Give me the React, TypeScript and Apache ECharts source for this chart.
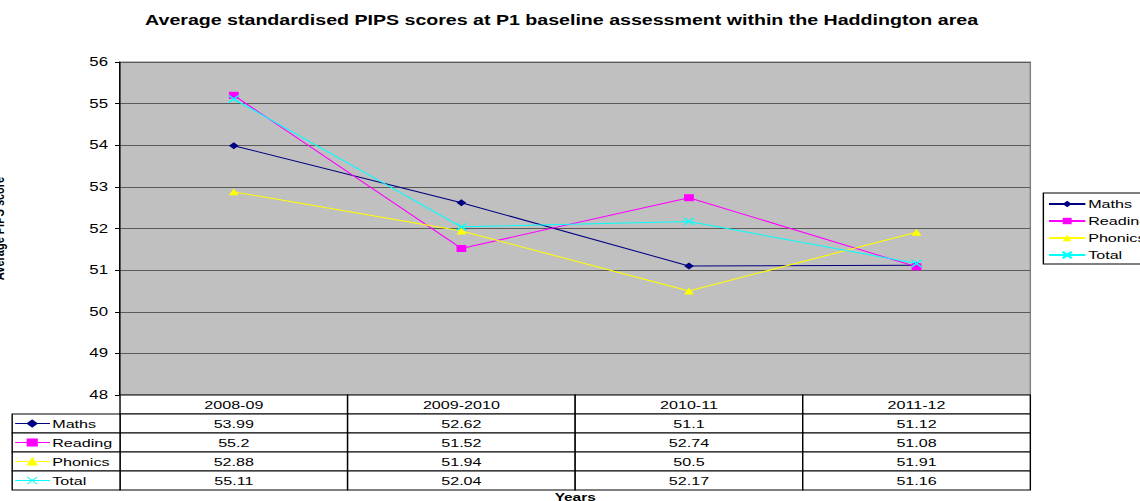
import React, { useEffect, useRef } from "react";
import * as echarts from "echarts";

const TITLE = "Average standardised PIPS scores at P1 baseline assessment within the Haddington area";
const Y_NAME = "Average PIPS score";
const X_NAME = "Years";
const categories = ["2008-09", "2009-2010", "2010-11", "2011-12"];
const seriesNames = ["Maths", "Reading", "Phonics", "Total"];
const maths = [53.99, 52.62, 51.1, 51.12];
const reading = [55.2, 51.52, 52.74, 51.08];
const phonics = [52.88, 51.94, 50.5, 51.91];
const total = [55.11, 52.04, 52.17, 51.16];
const yTicks = { min: 48, max: 56, interval: 1 };

const allValues = [maths, reading, phonics, total];
const colors = ["#000080", "#FF00FF", "#FFFF00", "#00FFFF"];
const symbols = ["diamond", "rect", "triangle", "path://M0,0L10,10M10,0L0,10"];

const FONT = '"Liberation Sans", Arial, sans-serif';
const W = 814;
const H = 501;
const SX = 1140 / W;
const KEY_W = 77;

export default function App() {
  const ref = useRef<HTMLDivElement>(null);
  useEffect(() => {
    if (!ref.current) return;
    const chart = echarts.init(ref.current, null, { renderer: "svg" });

    const cellData: number[][] = [];
    const cellTexts: string[] = [];
    categories.forEach((c, ci) => {
      cellData.push([ci, 0]);
      cellTexts.push(c);
    });
    allValues.forEach((vals, si) => {
      vals.forEach((v, ci) => {
        cellData.push([ci, si + 1]);
        cellTexts.push(String(v));
      });
    });
    const keyData = seriesNames.map((_, si) => [0, si + 1]);

    const markerShape = (si: number, mx: number, my: number) => {
      const r = 3.5;
      const style = { fill: colors[si], stroke: colors[si], lineWidth: 1 };
      if (si === 0)
        return { type: "polygon", shape: { points: [[mx, my - r], [mx + r, my], [mx, my + r], [mx - r, my]] }, style };
      if (si === 1) return { type: "rect", shape: { x: mx - r, y: my - r, width: 2 * r, height: 2 * r }, style };
      if (si === 2)
        return { type: "polygon", shape: { points: [[mx, my - r], [mx + r, my + r], [mx - r, my + r]] }, style };
      return {
        type: "group",
        children: [
          { type: "line", shape: { x1: mx - r, y1: my - r, x2: mx + r, y2: my + r }, style: { stroke: colors[si], lineWidth: 1 } },
          { type: "line", shape: { x1: mx + r, y1: my - r, x2: mx - r, y2: my + r }, style: { stroke: colors[si], lineWidth: 1 } },
        ],
      };
    };

    const option: any = {
      animation: false,
      backgroundColor: "#fff",
      textStyle: { fontFamily: FONT },
      title: {
        text: TITLE,
        left: 103.6,
        top: 13,
        padding: 0,
        textStyle: { fontFamily: FONT, fontSize: 14, fontWeight: "bold", color: "#000" },
      },
      legend: {
        orient: "vertical",
        left: 745,
        top: 193,
        padding: [5, 4, 3, 3],
        itemGap: 5,
        itemWidth: 26,
        itemHeight: 8,
        borderColor: "#000",
        borderWidth: 1,
        backgroundColor: "#fff",
        textStyle: { fontFamily: FONT, fontSize: 11.5, color: "#000", padding: [0, 0, 0, -3] },
        data: seriesNames,
      },
      grid: [
        { left: 85.7, top: 62, width: 650, height: 333, show: true, backgroundColor: "#C0C0C0", borderColor: "#808080", borderWidth: 1, outerBoundsMode: "none", containLabel: false },
        { left: 85.7, top: 395, width: 650, height: 95, outerBoundsMode: "none", containLabel: false },
      ],
      xAxis: [
        {
          type: "category",
          gridIndex: 0,
          data: categories,
          boundaryGap: true,
          axisLine: { lineStyle: { color: "#000", width: 1 } },
          axisTick: { show: false },
          axisLabel: { show: false },
          splitLine: { show: false },
        },
        {
          type: "category",
          gridIndex: 1,
          data: categories,
          boundaryGap: true,
          axisLine: { show: false },
          axisTick: { show: false },
          axisLabel: { show: false },
          splitLine: { show: false },
          name: X_NAME,
          nameLocation: "middle",
          nameGap: 2,
          nameTextStyle: { fontFamily: FONT, fontSize: 11, fontWeight: "bold", color: "#000", verticalAlign: "top" },
        },
      ],
      yAxis: [
        {
          type: "value",
          gridIndex: 0,
          min: yTicks.min,
          max: yTicks.max,
          interval: yTicks.interval,
          axisLine: { show: true, lineStyle: { color: "#000", width: 1 } },
          axisTick: { show: true, length: 3.6, lineStyle: { color: "#000" } },
          axisLabel: { fontFamily: FONT, fontSize: 12, color: "#000", margin: 8.6 },
          splitLine: { show: true, lineStyle: { color: "#5a5a5a", width: 1.2 } },
          name: Y_NAME,
          nameLocation: "middle",
          nameRotate: 90,
          nameGap: 81,
          nameTextStyle: { fontFamily: FONT, fontSize: 11, fontWeight: "bold", color: "#000" },
        },
        {
          type: "category",
          gridIndex: 1,
          data: ["", ...seriesNames],
          inverse: true,
          show: false,
        },
      ],
      series: [
        ...allValues.map((vals, si) => ({
          name: seriesNames[si],
          type: "line",
          xAxisIndex: 0,
          yAxisIndex: 0,
          data: vals,
          symbol: symbols[si],
          symbolSize: 7,
          showAllSymbol: true,
          lineStyle: { color: colors[si], width: 1 },
          itemStyle: { color: colors[si], borderColor: colors[si], borderWidth: si === 3 ? 1.2 : 0 },
          emphasis: { disabled: true },
        })),
        {
          type: "custom",
          name: "table",
          xAxisIndex: 1,
          yAxisIndex: 1,
          silent: true,
          data: cellData,
          renderItem: (params: any, api: any) => {
            const c = api.value(0);
            const r = api.value(1);
            const pt = api.coord([c, r]);
            const sz = api.size([1, 1]);
            return {
              type: "group",
              children: [
                {
                  type: "rect",
                  shape: { x: pt[0] - sz[0] / 2, y: pt[1] - sz[1] / 2, width: sz[0], height: sz[1] },
                  style: { fill: "#fff", stroke: "#000", lineWidth: 1 },
                },
                {
                  type: "text",
                  style: {
                    text: cellTexts[params.dataIndex],
                    x: pt[0],
                    y: pt[1],
                    align: "center",
                    verticalAlign: "middle",
                    fontFamily: FONT,
                    fontSize: 11.5,
                    fill: "#000",
                  },
                },
              ],
            };
          },
        },
        {
          type: "custom",
          name: "keys",
          xAxisIndex: 1,
          yAxisIndex: 1,
          silent: true,
          data: keyData,
          renderItem: (params: any, api: any) => {
            const si = params.dataIndex;
            const pt = api.coord([api.value(0), api.value(1)]);
            const sz = api.size([1, 1]);
            const x0 = pt[0] - sz[0] / 2 - KEY_W;
            const y0 = pt[1] - sz[1] / 2;
            const my = pt[1];
            return {
              type: "group",
              children: [
                {
                  type: "rect",
                  shape: { x: x0, y: y0, width: KEY_W, height: sz[1] },
                  style: { fill: "#fff", stroke: "#000", lineWidth: 1 },
                },
                {
                  type: "line",
                  shape: { x1: x0 + 2.1, y1: my, x2: x0 + 27, y2: my },
                  style: { stroke: colors[si], lineWidth: 1 },
                },
                markerShape(si, x0 + 14.3, my),
                {
                  type: "text",
                  style: {
                    text: seriesNames[si],
                    x: x0 + 28.6,
                    y: my,
                    align: "left",
                    verticalAlign: "middle",
                    fontFamily: FONT,
                    fontSize: 11.5,
                    fill: "#000",
                  },
                },
              ],
            };
          },
        },
      ],
    };
    chart.setOption(option);
    return () => chart.dispose();
  }, []);

  return (
    <div
      ref={ref}
      style={{
        position: "absolute",
        left: 0,
        top: 0,
        width: W,
        height: H,
        transform: `scaleX(${SX})`,
        transformOrigin: "0 0",
      }}
    />
  );
}
